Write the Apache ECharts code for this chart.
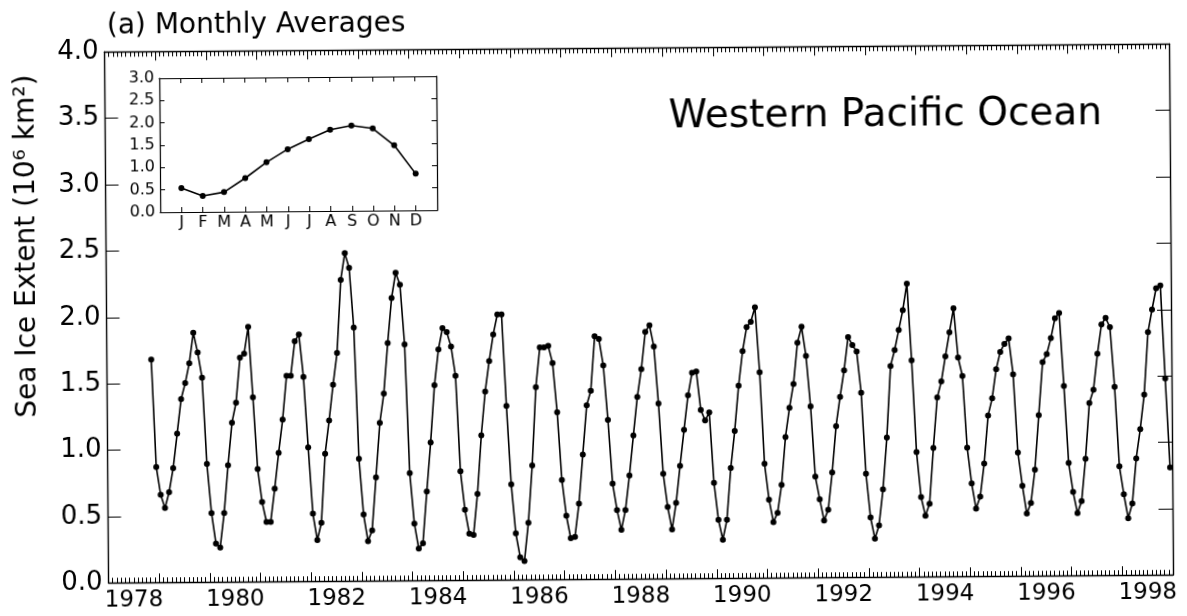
<!DOCTYPE html>
<html><head><meta charset="utf-8">
<script src="https://cdn.jsdelivr.net/npm/echarts@6/dist/echarts.min.js"></script>
<style>
html,body{margin:0;padding:0;background:#fff;width:1187px;height:616px;overflow:hidden}
#c{width:1187px;height:616px;transform:rotate(-0.43deg);transform-origin:50% 50%;background:#fff}
</style></head><body><div id="c"></div>
<script>
// Monthly sea ice extent, Western Pacific Ocean (10^6 km^2)
const y1978 = [1.68, 0.87]; // Nov, Dec only
const y1979 = [0.66, 0.56, 0.68, 0.86, 1.12, 1.38, 1.50, 1.65, 1.88, 1.73, 1.54, 0.89];
const y1980 = [0.52, 0.29, 0.26, 0.52, 0.88, 1.20, 1.35, 1.69, 1.72, 1.92, 1.39, 0.85];
const y1981 = [0.60, 0.45, 0.45, 0.70, 0.97, 1.22, 1.55, 1.55, 1.81, 1.86, 1.54, 1.01];
const y1982 = [0.51, 0.31, 0.44, 0.96, 1.21, 1.48, 1.72, 2.27, 2.47, 2.36, 1.91, 0.92];
const y1983 = [0.50, 0.30, 0.38, 0.78, 1.19, 1.41, 1.79, 2.13, 2.32, 2.23, 1.78, 0.81];
const y1984 = [0.43, 0.24, 0.28, 0.67, 1.04, 1.47, 1.74, 1.90, 1.87, 1.76, 1.54, 0.82];
const y1985 = [0.53, 0.35, 0.34, 0.65, 1.09, 1.42, 1.65, 1.85, 2.00, 2.00, 1.31, 0.72];
const y1986 = [0.35, 0.17, 0.14, 0.43, 0.86, 1.45, 1.75, 1.75, 1.76, 1.63, 1.26, 0.75];
const y1987 = [0.48, 0.31, 0.32, 0.57, 0.94, 1.31, 1.42, 1.83, 1.81, 1.61, 1.20, 0.72];
const y1988 = [0.52, 0.37, 0.52, 0.78, 1.08, 1.37, 1.58, 1.86, 1.91, 1.75, 1.32, 0.79];
const y1989 = [0.54, 0.37, 0.57, 0.85, 1.12, 1.38, 1.55, 1.56, 1.27, 1.19, 1.25, 0.72];
const y1990 = [0.44, 0.29, 0.44, 0.83, 1.11, 1.45, 1.71, 1.89, 1.93, 2.04, 1.55, 0.86];
const y1991 = [0.59, 0.42, 0.49, 0.70, 1.06, 1.28, 1.46, 1.77, 1.89, 1.67, 1.29, 0.76];
const y1992 = [0.59, 0.43, 0.51, 0.79, 1.14, 1.36, 1.56, 1.81, 1.75, 1.70, 1.39, 0.78];
const y1993 = [0.45, 0.29, 0.39, 0.66, 1.05, 1.59, 1.71, 1.86, 2.01, 2.21, 1.63, 0.94];
const y1994 = [0.60, 0.46, 0.55, 0.97, 1.35, 1.47, 1.66, 1.84, 2.02, 1.65, 1.51, 0.97];
const y1995 = [0.70, 0.51, 0.60, 0.85, 1.21, 1.34, 1.56, 1.69, 1.75, 1.79, 1.52, 0.93];
const y1996 = [0.68, 0.47, 0.55, 0.80, 1.21, 1.61, 1.67, 1.79, 1.94, 1.98, 1.43, 0.85];
const y1997 = [0.63, 0.47, 0.56, 0.88, 1.30, 1.40, 1.67, 1.89, 1.94, 1.87, 1.42, 0.82];
const y1998 = [0.61, 0.43, 0.54, 0.88, 1.10, 1.36, 1.83, 2.00, 2.16, 2.18, 1.48, 0.81];

const yearSeries = [
  [1978, 10, y1978], [1979, 0, y1979], [1980, 0, y1980], [1981, 0, y1981], [1982, 0, y1982],
  [1983, 0, y1983], [1984, 0, y1984], [1985, 0, y1985], [1986, 0, y1986], [1987, 0, y1987],
  [1988, 0, y1988], [1989, 0, y1989], [1990, 0, y1990], [1991, 0, y1991], [1992, 0, y1992],
  [1993, 0, y1993], [1994, 0, y1994], [1995, 0, y1995], [1996, 0, y1996], [1997, 0, y1997],
  [1998, 0, y1998]
];

// Inset: mean seasonal cycle
const monthLetters = ['J', 'F', 'M', 'A', 'M', 'J', 'J', 'A', 'S', 'O', 'N', 'D'];
const climatology = [0.54, 0.36, 0.44, 0.75, 1.10, 1.39, 1.61, 1.82, 1.91, 1.84, 1.46, 0.82];

// Tick labels
const yearLabels = [1978, 1980, 1982, 1984, 1986, 1988, 1990, 1992, 1994, 1996, 1998];

const mainData = [];
yearSeries.forEach(([yr, m0, vals]) => {
  vals.forEach((v, i) => mainData.push([yr + (m0 + i + 0.5) / 12, v]));
});
const insetData = climatology.map((v, i) => [i + 1, v]);

const FONT = 'DejaVu Sans';
const black = '#000';
const lineS = { color: black, width: 1.4 };
const tickS = { color: black, width: 1 };

function frameAxis(extra) {
  return Object.assign({
    type: 'value',
    axisLine: { show: true, onZero: false, lineStyle: lineS },
    splitLine: { show: false }
  }, extra);
}

const chart = echarts.init(document.getElementById('c'), null, { renderer: 'canvas' });
chart.setOption({
  animation: false,
  backgroundColor: '#fff',
  grid: [
    { left: 106.5, right: 16, top: 48.3, bottom: 36.8, containLabel: false },
    { left: 161, top: 75, width: 277, height: 134, containLabel: false }
  ],
  xAxis: [
    frameAxis({
      gridIndex: 0, position: 'bottom', min: 1978, max: 1999, interval: 1,
      axisTick: { show: true, inside: true, length: 9, lineStyle: tickS },
      minorTick: { show: true, splitNumber: 12, length: 5, lineStyle: tickS },
      axisLabel: {
        customValues: yearLabels.map(y => y + 0.5),
        formatter: v => String(Math.floor(v)),
        color: black, fontFamily: FONT, fontSize: 23, margin: 6
      }
    }),
    frameAxis({
      gridIndex: 0, position: 'top', min: 1978, max: 1999, interval: 1,
      axisTick: { show: true, inside: true, length: 9, lineStyle: tickS },
      minorTick: { show: true, splitNumber: 12, length: 5, lineStyle: tickS },
      axisLabel: { show: false }
    }),
    frameAxis({
      gridIndex: 1, position: 'bottom', min: 0, max: 13, interval: 1,
      axisLine: { show: true, onZero: false, lineStyle: { color: black, width: 1.2 } },
      axisTick: { show: true, inside: true, length: 5, lineStyle: tickS },
      axisLabel: {
        formatter: v => (v >= 1 && v <= 12 ? monthLetters[v - 1] : ''),
        color: black, fontFamily: FONT, fontSize: 16, margin: 3
      }
    }),
    frameAxis({
      gridIndex: 1, position: 'top', min: 0, max: 13, interval: 1,
      axisLine: { show: true, onZero: false, lineStyle: { color: black, width: 1.2 } },
      axisTick: { show: true, inside: true, length: 5, lineStyle: tickS },
      axisLabel: { show: false }
    })
  ],
  yAxis: [
    frameAxis({
      gridIndex: 0, position: 'left', min: 0, max: 4, interval: 0.5,
      axisTick: { show: true, inside: true, length: 13, lineStyle: tickS },
      axisLabel: { formatter: v => v.toFixed(1), color: black, fontFamily: FONT, fontSize: 26, margin: 6 }
    }),
    frameAxis({
      gridIndex: 0, position: 'right', min: 0, max: 4, interval: 0.5,
      axisTick: { show: true, inside: true, length: 14, lineStyle: tickS },
      axisLabel: { show: false }
    }),
    frameAxis({
      gridIndex: 1, position: 'left', min: 0, max: 3, interval: 0.5,
      axisLine: { show: true, onZero: false, lineStyle: { color: black, width: 1.2 } },
      axisTick: { show: true, inside: true, length: 5, lineStyle: tickS },
      axisLabel: { formatter: v => v.toFixed(1), color: black, fontFamily: FONT, fontSize: 16, margin: 5 }
    }),
    frameAxis({
      gridIndex: 1, position: 'right', min: 0, max: 3, interval: 0.5,
      axisLine: { show: true, onZero: false, lineStyle: { color: black, width: 1.2 } },
      axisTick: { show: true, inside: true, length: 5, lineStyle: tickS },
      axisLabel: { show: false }
    })
  ],
  series: [
    {
      type: 'line', xAxisIndex: 0, yAxisIndex: 0, data: mainData,
      symbol: 'circle', symbolSize: 6, showSymbol: true,
      lineStyle: { color: black, width: 1.6 }, itemStyle: { color: black },
      emphasis: { disabled: true }
    },
    {
      type: 'line', xAxisIndex: 2, yAxisIndex: 2, data: insetData,
      symbol: 'circle', symbolSize: 6, showSymbol: true,
      lineStyle: { color: black, width: 1.6 }, itemStyle: { color: black },
      emphasis: { disabled: true }
    }
  ],
  graphic: [
    {
      type: 'text', x: 109, y: 22.5,
      style: { text: '(a) Monthly Averages', font: '28px "DejaVu Sans"', fill: black,
        textAlign: 'left', textVerticalAlign: 'middle', align: 'left', verticalAlign: 'middle' }
    },
    {
      type: 'text', x: 670, y: 118,
      style: { text: 'Western Pacific Ocean', font: '39px "DejaVu Sans"', fill: black,
        textAlign: 'left', textVerticalAlign: 'middle', align: 'left', verticalAlign: 'middle' }
    },
    {
      type: 'text', x: 28, y: 242, rotation: Math.PI / 2,
      style: { text: 'Sea Ice Extent (10\u2076 km\u00b2)', font: '28px "DejaVu Sans"', fill: black,
        textAlign: 'center', textVerticalAlign: 'middle', align: 'center', verticalAlign: 'middle' }
    }
  ]
});
</script></body></html>
